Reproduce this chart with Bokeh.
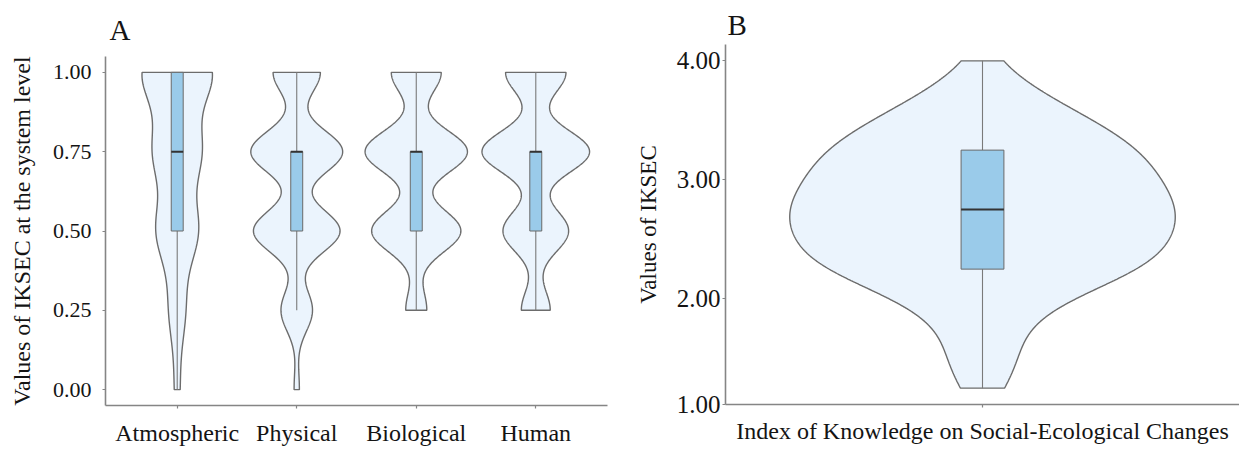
import numpy as np
from bokeh.plotting import figure
from bokeh.layouts import row, column
from bokeh.models import FixedTicker, Range1d
from bokeh.embed import file_html
from bokeh.resources import INLINE

# ---------------- data ----------------
# Panel A: IKSEC values at the system level (respondent counts per level)
categories = ["Atmospheric", "Physical", "Biological", "Human"]
levels_a = [0.0, 0.25, 0.5, 0.75, 1.0]
counts_atmospheric = [3, 9, 23, 26, 39]
counts_physical = [2, 12, 33, 35, 18]
counts_biological = [0, 8, 34, 39, 19]
counts_human = [0, 11, 25, 41, 23]
y_ticks_a = [0.0, 0.25, 0.5, 0.75, 1.0]
y_labels_a = ["0.00", "0.25", "0.50", "0.75", "1.00"]

# Panel B: overall IKSEC index (counts per level)
levels_b = [1.25, 1.5, 1.75, 2.0, 2.25, 2.5, 2.75, 3.0, 3.25, 3.5, 3.75, 4.0]
counts_b = [2, 3, 3, 6, 14, 15, 16, 14, 13, 9, 4, 1]
category_b = "Index of Knowledge on Social-Ecological Changes"
y_ticks_b = [2.0, 3.0, 4.0]
y_labels_b = ["1.00", "2.00", "3.00", "4.00"]

FONT = "Liberation Serif"
VIOLIN_FILL = "#ebf4fd"
VIOLIN_LINE = "#6c6c6c"
BOX_FILL = "#9acbea"
AXIS_COL = "#858585"
TEXT_COL = "#141414"


def expand(levels, counts):
    return np.repeat(np.asarray(levels, float), counts)


def bw_nrd0(x):
    sd = np.std(x, ddof=1)
    q1, q3 = np.percentile(x, [25, 75])
    lo = min(sd, (q3 - q1) / 1.34)
    return 0.9 * lo * len(x) ** -0.2


def violin_stats(x):
    bw = bw_nrd0(x)
    grid = np.linspace(x.min(), x.max(), 512)
    dens = np.exp(-0.5 * ((grid[:, None] - x[None, :]) / bw) ** 2).sum(1)
    dens /= len(x) * bw * np.sqrt(2 * np.pi)
    q1, med, q3 = np.percentile(x, [25, 50, 75])
    iqr = q3 - q1
    wlo = x[x >= q1 - 1.5 * iqr].min()
    whi = x[x <= q3 + 1.5 * iqr].max()
    return grid, dens, (q1, med, q3, wlo, whi)


def draw_violins(p, groups, centers):
    stats = [violin_stats(g) for g in groups]
    dmax = max(s[1].max() for s in stats)
    for (grid, dens, (q1, med, q3, wlo, whi)), c in zip(stats, centers):
        hw = 0.45 * dens / dmax
        xs = np.concatenate([c - hw, (c + hw)[::-1]])
        ys = np.concatenate([grid, grid[::-1]])
        p.patch(xs, ys, fill_color=VIOLIN_FILL, line_color=VIOLIN_LINE, line_width=1.4)
        p.segment(x0=[c], y0=[wlo], x1=[c], y1=[whi], line_color="#7a7a7a", line_width=1.1)
        p.quad(left=[c - 0.05], right=[c + 0.05], bottom=[q1], top=[q3],
               fill_color=BOX_FILL, line_color="#6a6a6a", line_width=1)
        p.segment(x0=[c - 0.05], y0=[med], x1=[c + 0.05], y1=[med],
                  line_color="#333333", line_width=2)


def style(p, tick_size, label_size, title_size):
    p.grid.grid_line_color = None
    p.outline_line_color = None
    p.background_fill_color = "white"
    p.border_fill_color = "white"
    for ax in (p.xaxis, p.yaxis):
        ax.axis_line_color = AXIS_COL
        ax.axis_line_width = 1.6
        ax.major_tick_line_color = AXIS_COL
        ax.major_tick_line_width = 1.2
        ax.major_tick_out = 3
        ax.major_tick_in = 0
        ax.minor_tick_line_color = None
        ax.major_label_text_font = FONT
        ax.major_label_text_color = TEXT_COL
        ax.axis_label_text_font = FONT
        ax.axis_label_text_font_style = "normal"
        ax.axis_label_text_color = TEXT_COL
    p.yaxis.major_label_text_font_size = tick_size
    p.xaxis.major_label_text_font_size = label_size
    p.yaxis.axis_label_text_font_size = title_size
    p.title.text_font = FONT
    p.title.text_font_style = "normal"
    p.title.text_font_size = "29px"
    p.title.text_color = TEXT_COL
    p.title.align = "left"


# ---------------- panel A ----------------
groups_a = [expand(levels_a, c) for c in
            (counts_atmospheric, counts_physical, counts_biological, counts_human)]
centers_a = list(range(1, len(categories) + 1))

pA = figure(width=620, height=449, output_backend="svg", toolbar_location=None,
            x_range=Range1d(0.4, len(categories) + 0.6), y_range=Range1d(-0.05, 1.05),
            min_border_left=105, min_border_right=13, min_border_top=56, min_border_bottom=44,
            title="A")
draw_violins(pA, groups_a, centers_a)
style(pA, "22px", "24px", "24px")
pA.xaxis.ticker = FixedTicker(ticks=centers_a)
pA.xaxis.major_label_overrides = {float(c): n for c, n in zip(centers_a, categories)}
pA.xaxis.major_label_standoff = 11
pA.yaxis.ticker = FixedTicker(ticks=y_ticks_a)
pA.yaxis.major_label_overrides = {float(t): l for t, l in zip(y_ticks_a, y_labels_a)}
pA.yaxis.major_label_standoff = 11
pA.yaxis.axis_label = "Values of IKSEC at the system level"
pA.yaxis.axis_label_standoff = 15
pA.title.offset = 4
pA.title.standoff = 22

# ---------------- panel B ----------------
data_b = expand(levels_b, counts_b)
span_b = data_b.max() - data_b.min()
yb_lo = data_b.min() - 0.05 * span_b
yb_hi = data_b.max() + 0.05 * span_b

pB = figure(width=619, height=449, output_backend="svg", toolbar_location=None,
            x_range=Range1d(0.4, 1.6), y_range=Range1d(yb_lo, yb_hi),
            min_border_left=105, min_border_right=0, min_border_top=44, min_border_bottom=45,
            title="B")
draw_violins(pB, [data_b], [1])
style(pB, "25px", "24px", "23px")
pB.xaxis.ticker = FixedTicker(ticks=[1])
pB.xaxis.major_label_overrides = {1.0: category_b}
pB.xaxis.major_label_standoff = 10
ticks_b = [yb_lo] + y_ticks_b
pB.yaxis.ticker = FixedTicker(ticks=ticks_b)
pB.yaxis.major_label_overrides = {float(t): l for t, l in zip(ticks_b, y_labels_b)}
pB.yaxis.major_label_standoff = 2
pB.yaxis.axis_label = "Values of IKSEC"
pB.yaxis.axis_label_standoff = 13
pB.title.offset = 2
pB.title.standoff = 8

layout = row(column(pA), column(pB))
open("out.html", "w").write(file_html(layout, INLINE))
